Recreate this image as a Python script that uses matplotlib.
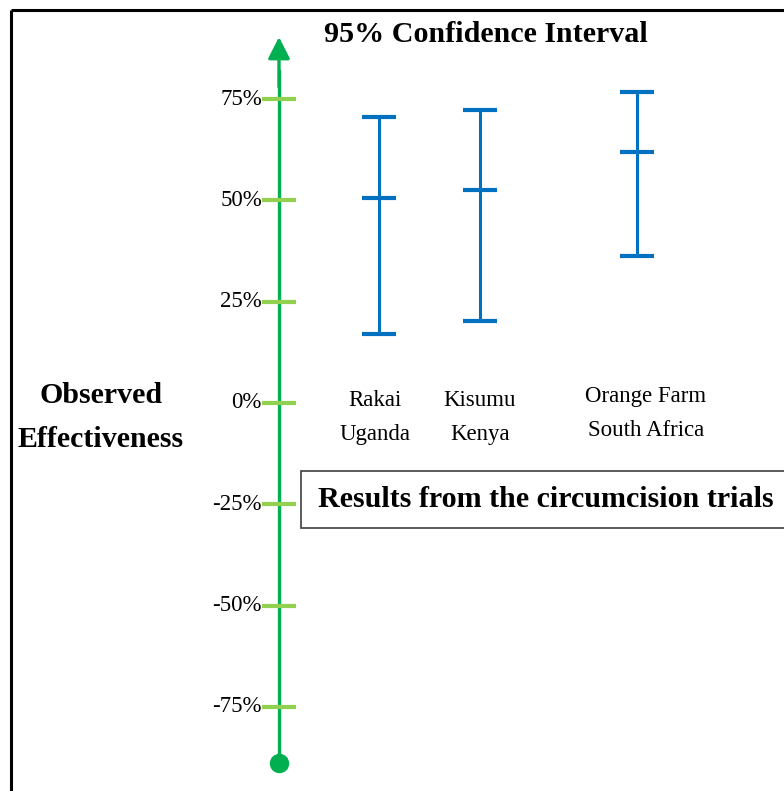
import matplotlib
matplotlib.use("Agg")
import matplotlib.pyplot as plt
from matplotlib.patches import Rectangle

# data (percent effectiveness)
site_top = ["Rakai", "Kisumu", "Orange Farm"]
site_bottom = ["Uganda", "Kenya", "South Africa"]
point_est = [50.6, 52.6, 61.9]
ci_low = [17.0, 20.2, 36.3]
ci_high = [70.6, 72.3, 76.7]
tick_vals = [75, 50, 25, 0, -25, -50, -75]
tick_labels = ["75%", "50%", "25%", "0%", "-25%", "-50%", "-75%"]

# layout (x in pixel-like units, y in percent)
site_x = [379, 480, 637]
label_x = [375, 480, 646]
label_y = [401, 401, 397]
axis_x = 279
blue = "#0070C0"
green = "#00B050"
light_green = "#92D050"
serif = ["Liberation Serif", "DejaVu Serif"]

W, H = 784, 791
fig = plt.figure(figsize=(W / 100, H / 100), dpi=100)
ax = fig.add_axes([0, 0, 1, 1])
ax.set_xlim(0, W)
px = 101.3 / 25  # pixels per percent
ax.set_ylim(-(H - 403) / px, 403 / px)
ax.axis("off")

def ypix(p):
    return (403 - p) / px

# border (top and left only)
ax.plot([11, W], [ypix(10), ypix(10)], color="black", lw=2.2, solid_capstyle="butt")
ax.plot([11, 11], [ypix(10), ypix(H)], color="black", lw=2.2, solid_capstyle="butt")

# green axis with arrow and dot
ax.plot([axis_x, axis_x], [-89.5, 82], color=green, lw=2.4, zorder=2)
ax.annotate("", xy=(axis_x, ypix(37)), xytext=(axis_x, 78),
            arrowprops=dict(arrowstyle="-|>,head_length=0.65,head_width=0.33",
                            mutation_scale=20, color=green, lw=2.4,
                            shrinkA=0, shrinkB=0))
ax.plot([axis_x], [ypix(763)], marker="o", ms=14, color=green,
        markeredgewidth=0, zorder=3)

for v, lab in zip(tick_vals, tick_labels):
    ax.plot([262, 296], [v, v], color=light_green, lw=3, solid_capstyle="butt", zorder=3)
    ax.text(262, v, lab, ha="right", va="center", fontsize=16.5, family=serif)

# confidence intervals
for x, m, lo, hi in zip(site_x, point_est, ci_low, ci_high):
    ax.errorbar([x], [m], yerr=[[m - lo], [hi - m]], fmt="none", ecolor=blue,
                elinewidth=2.2, capsize=12, capthick=3)
    ax.plot([x], [m], marker="_", ms=24, mew=3, color=blue)

for x, y, a, b in zip(label_x, label_y, site_top, site_bottom):
    ax.text(x, ypix(y), a, ha="center", va="center", fontsize=16.5, family=serif)
    ax.text(x, ypix(y + 34), b, ha="center", va="center", fontsize=16.5, family=serif)

ax.text(486, ypix(34), "95% Confidence Interval", ha="center", va="center",
        fontsize=21.6, fontweight="bold", family=serif)
ax.text(101, ypix(396), "Observed", ha="center", va="center",
        fontsize=21.5, fontweight="bold", family=serif)
ax.text(101, ypix(440), "Effectiveness", ha="center", va="center",
        fontsize=21.5, fontweight="bold", family=serif)

ax.add_patch(Rectangle((301, ypix(528)), 520, ypix(471) - ypix(528),
                       facecolor="white", edgecolor="#404040", lw=1.2, zorder=4))
ax.text(318, ypix(500), "Results from the circumcision trials", ha="left",
        va="center", fontsize=21.6, fontweight="bold", family=serif, zorder=5)

fig.savefig("out.png", dpi=100)
